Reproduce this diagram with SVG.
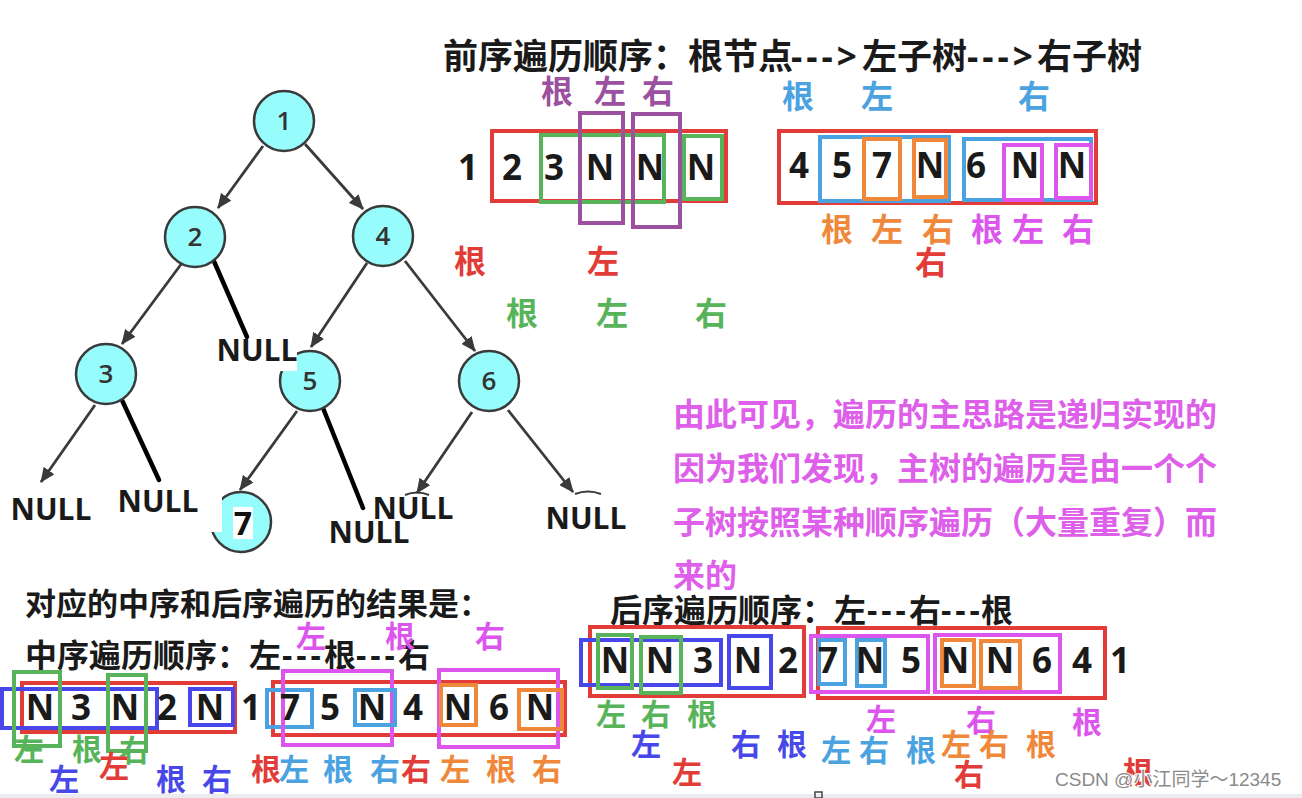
<svg xmlns="http://www.w3.org/2000/svg" width="1302" height="798" viewBox="0 0 1302 798">
<defs>
<marker id="ah" viewBox="0 0 15 13" refX="14" refY="6.5" markerWidth="15" markerHeight="13" markerUnits="userSpaceOnUse" orient="auto"><path d="M0,0 L15,6.5 L0,13 Z" fill="#3a3a3a"/></marker>
<style>
.hd{font-family:"Open Sans","Noto Sans CJK SC",sans-serif;font-weight:700;fill:#1a1a1a}
.lb{font-family:"Noto Sans CJK SC",sans-serif;font-weight:700;font-size:32px;text-anchor:middle}
.lb2{font-family:"Noto Sans CJK SC",sans-serif;font-weight:700;font-size:30px;text-anchor:middle}
.pa{font-family:"Noto Sans CJK SC",sans-serif;font-weight:700;font-size:32px;fill:#de5fe9}
.dg{font-family:"Open Sans","DejaVu Sans",sans-serif;font-weight:700;font-size:35px;text-anchor:middle;fill:#1a1a1a}
.nl{font-family:"Open Sans",sans-serif;font-weight:700;font-size:30px;text-anchor:middle;fill:#1a1a1a}
.nd circle{fill:#96fcfc;stroke:#3a3a3a;stroke-width:2.5}
.nd text{font-family:"Open Sans",sans-serif;font-weight:600;font-size:26px;text-anchor:middle;fill:#333}
.e{stroke:#3a3a3a;stroke-width:2.8;fill:none;marker-end:url(#ah)}
.k{stroke:#000;stroke-width:4.5;fill:none;stroke-linecap:round}
.bx rect{fill:none;stroke-width:4}
.sr{stroke:#e13c38}.sg{stroke:#58b45a}.sp{stroke:#9b51a0}.sb{stroke:#4aa3e0}.so{stroke:#f0883c}.sm{stroke:#dc55ec}.sd{stroke:#4848ea}
.fr{fill:#e13c38}.fg{fill:#58b45a}.fp{fill:#9b51a0}.fb{fill:#4aa3e0}.fo{fill:#f0883c}.fm{fill:#dc55ec}.fd{fill:#4848ea}
</style>
</defs>
<rect width="1302" height="798" fill="#fff"/>

<!-- connectors -->
<g id="connectors">
<line class="e" x1="263" y1="146" x2="218" y2="208"/>
<line class="e" x1="305" y1="144" x2="363" y2="209"/>
<line class="e" x1="182" y1="263" x2="122" y2="344"/>
<line class="e" x1="367" y1="263" x2="311" y2="347"/>
<line class="e" x1="405" y1="261" x2="475" y2="351"/>
<line class="e" x1="95" y1="405" x2="41" y2="482"/>
<line class="e" x1="297" y1="411" x2="240" y2="490"/>
<line class="e" x1="472" y1="412" x2="417" y2="493"/>
<line class="e" x1="508" y1="410" x2="573" y2="492"/>
<line class="k" x1="213" y1="259" x2="247" y2="337"/>
<line class="k" x1="121" y1="398" x2="159" y2="480"/>
<line class="k" x1="323" y1="408" x2="363" y2="508"/>
</g>

<!-- tree nodes -->
<g id="node1" class="nd"><circle cx="284" cy="121" r="30"/><text x="284" y="130">1</text></g>
<g id="node2" class="nd"><circle cx="195" cy="237" r="30"/><text x="195" y="246">2</text></g>
<g id="node4" class="nd"><circle cx="383" cy="236" r="30"/><text x="383" y="245">4</text></g>
<g id="node3" class="nd"><circle cx="106" cy="374" r="30"/><text x="106" y="383">3</text></g>
<g id="node5" class="nd"><circle cx="310" cy="381" r="30"/><rect x="279" y="348" width="18" height="23" fill="#fff"/><text x="310" y="390">5</text></g>
<g id="node6" class="nd"><circle cx="489" cy="381" r="30"/><text x="489" y="390">6</text></g>
<g id="node7" class="nd"><circle cx="241" cy="522" r="30"/><rect x="205" y="489" width="17" height="43" fill="#fff"/><rect x="233" y="507" width="20" height="32" fill="#fff"/><text x="243" y="535" style="font-size:32px;font-weight:700;fill:#111">7</text></g>

<g id="nulls">
<text class="nl" x="51" y="520">NULL</text>
<text class="nl" x="158" y="512">NULL</text>
<text class="nl" x="257" y="361">NULL</text>
<path d="M405,495 Q417,490 429,495" fill="none" stroke="#3a3a3a" stroke-width="2"/>
<text class="nl" x="413" y="519">NULL</text>
<text class="nl" x="369" y="543">NULL</text>
<path d="M575,494 Q588,489 601,494" fill="none" stroke="#3a3a3a" stroke-width="2"/>
<text class="nl" x="586" y="529">NULL</text>
</g>

<!-- top title -->
<g id="title-pre">
<text class="hd" x="443" y="69" font-size="35">前序遍历顺序：根节点</text>
<text class="hd" x="791" y="69" font-size="35" letter-spacing="4">---&gt;</text>
<text class="hd" x="862" y="69" font-size="35">左子树</text>
<text class="hd" x="967" y="69" font-size="35" letter-spacing="4">---&gt;</text>
<text class="hd" x="1037" y="69" font-size="35">右子树</text>
</g>

<!-- array 1 -->
<g id="pre-left">
<g class="bx">
<rect class="sr" x="492" y="131" width="234" height="70"/>
<rect class="sg" x="541" y="135" width="123" height="67"/>
<rect class="sg" x="684" y="136" width="38" height="63"/>
<rect class="sp" x="580" y="113" width="43" height="110"/>
<rect class="sp" x="633" y="114" width="47" height="113"/>
</g>
<text class="dg" x="468" y="180">1</text>
<text class="dg" x="512" y="180">2</text>
<text class="dg" x="554" y="180">3</text>
<text class="dg" x="600" y="180">N</text>
<text class="dg" x="650" y="180">N</text>
<text class="dg" x="701" y="180">N</text>
<text class="lb fp" x="557" y="103">根</text>
<text class="lb fp" x="610" y="103">左</text>
<text class="lb fp" x="658" y="103">右</text>
<text class="lb fr" x="470" y="273">根</text>
<text class="lb fr" x="603" y="273">左</text>
<text class="lb fg" x="522" y="325">根</text>
<text class="lb fg" x="612" y="325">左</text>
<text class="lb fg" x="711" y="325">右</text>
</g>

<!-- array 2 -->
<g id="pre-right">
<g class="bx">
<rect class="sr" x="779" y="131" width="317" height="72"/>
<rect class="sb" x="820" y="137" width="129" height="64"/>
<rect class="so" x="864" y="139" width="36" height="60"/>
<rect class="so" x="914" y="140" width="32" height="57"/>
<rect class="sb" x="964" y="139" width="127" height="61"/>
<rect class="sm" x="1004" y="145" width="38" height="55"/>
<rect class="sm" x="1056" y="145" width="35" height="53"/>
</g>
<text class="dg" x="799" y="178">4</text>
<text class="dg" x="842" y="178">5</text>
<text class="dg" x="882" y="178">7</text>
<text class="dg" x="930" y="178">N</text>
<text class="dg" x="976" y="178">6</text>
<text class="dg" x="1025" y="178">N</text>
<text class="dg" x="1072" y="178">N</text>
<text class="lb fb" x="798" y="108">根</text>
<text class="lb fb" x="877" y="108">左</text>
<text class="lb fb" x="1034" y="108">右</text>
<text class="lb fo" x="837" y="241">根</text>
<text class="lb fo" x="887" y="241">左</text>
<text class="lb fo" x="938" y="241">右</text>
<text class="lb fm" x="987" y="241">根</text>
<text class="lb fm" x="1028" y="241">左</text>
<text class="lb fm" x="1078" y="241">右</text>
<text class="lb fr" x="931" y="274">右</text>
</g>

<!-- explanation paragraph -->
<g id="note">
<text class="pa" x="673" y="426">由此可见，遍历的主思路是递归实现的</text>
<text class="pa" x="673" y="480">因为我们发现，主树的遍历是由一个个</text>
<text class="pa" x="673" y="534">子树按照某种顺序遍历（大量重复）而</text>
<text class="pa" x="673" y="587">来的</text>
</g>

<!-- bottom headings -->
<g id="title-in">
<text class="hd" x="25" y="615" font-size="31">对应的中序和后序遍历的结果是：</text>
<text class="hd" x="25" y="667" font-size="32">中序遍历顺序：左</text>
<text class="hd" x="282" y="667" font-size="32" letter-spacing="4">---</text>
<text class="hd" x="324" y="667" font-size="32">根</text>
<text class="hd" x="356" y="667" font-size="32" letter-spacing="4">---</text>
<text class="hd" x="398" y="667" font-size="32">右</text>
</g>

<!-- array 3 (inorder) -->
<g id="in-order">
<g class="bx">
<rect class="sr" x="22" y="683" width="213" height="49"/>
<rect class="sd" x="2" y="689" width="155" height="39"/>
<rect class="sg" x="14" y="672" width="46" height="74"/>
<rect class="sg" x="108" y="675" width="38" height="76"/>
<rect class="sd" x="190" y="689" width="43" height="36"/>
<rect class="sr" x="273" y="682" width="292" height="53"/>
<rect class="sb" x="267" y="690" width="45" height="37"/>
<rect class="sm" x="283" y="671" width="109" height="74"/>
<rect class="sb" x="355" y="690" width="40" height="35"/>
<rect class="sm" x="439" y="670" width="119" height="77"/>
<rect class="so" x="441" y="685" width="35" height="40"/>
<rect class="so" x="519" y="690" width="43" height="39"/>
</g>
<text class="dg" x="40" y="720">N</text>
<text class="dg" x="81" y="720">3</text>
<text class="dg" x="125" y="720">N</text>
<text class="dg" x="167" y="720">2</text>
<text class="dg" x="210" y="720">N</text>
<text class="dg" x="251" y="720">1</text>
<text class="dg" x="290" y="720">7</text>
<text class="dg" x="330" y="720">5</text>
<text class="dg" x="372" y="720">N</text>
<text class="dg" x="413" y="720">4</text>
<text class="dg" x="458" y="720">N</text>
<text class="dg" x="499" y="720">6</text>
<text class="dg" x="540" y="720">N</text>
<text class="lb2 fm" x="311" y="647">左</text>
<text class="lb2 fm" x="400" y="647">根</text>
<text class="lb2 fm" x="490" y="647">右</text>
<text class="lb2 fg" x="29" y="760">左</text>
<text class="lb2 fg" x="87" y="760">根</text>
<text class="lb2 fg" x="134" y="761">右</text>
<text class="lb2 fr" x="114" y="777">左</text>
<text class="lb2 fd" x="64" y="790">左</text>
<text class="lb2 fd" x="171" y="790">根</text>
<text class="lb2 fd" x="217" y="790">右</text>
<text class="lb2 fr" x="266" y="780">根</text>
<text class="lb2 fb" x="294" y="780">左</text>
<text class="lb2 fb" x="338" y="780">根</text>
<text class="lb2 fb" x="385" y="780">右</text>
<text class="lb2 fr" x="416" y="780">右</text>
<text class="lb2 fo" x="455" y="780">左</text>
<text class="lb2 fo" x="501" y="780">根</text>
<text class="lb2 fo" x="547" y="780">右</text>
</g>

<!-- postorder heading -->
<g id="title-post">
<text class="hd" x="610" y="622" font-size="32">后序遍历顺序：左</text>
<text class="hd" x="867" y="622" font-size="32" letter-spacing="4">---</text>
<text class="hd" x="909" y="622" font-size="32">右</text>
<text class="hd" x="941" y="622" font-size="32" letter-spacing="4">---</text>
<text class="hd" x="981" y="622" font-size="32">根</text>
</g>

<!-- array 4 (postorder) -->
<g id="post-order">
<g class="bx">
<rect class="sr" x="590" y="627" width="214" height="69"/>
<rect class="sd" x="581" y="640" width="140" height="45"/>
<rect class="sg" x="598" y="635" width="34" height="53"/>
<rect class="sg" x="641" y="637" width="40" height="56"/>
<rect class="sd" x="729" y="636" width="42" height="52"/>
<rect class="sr" x="818" y="628" width="287" height="70"/>
<rect class="sm" x="811" y="636" width="117" height="56"/>
<rect class="sb" x="819" y="640" width="26" height="44"/>
<rect class="sb" x="857" y="640" width="28" height="46"/>
<rect class="sm" x="935" y="635" width="125" height="57"/>
<rect class="so" x="942" y="640" width="32" height="46"/>
<rect class="so" x="981" y="641" width="39" height="47"/>
</g>
<text class="dg" x="615" y="673">N</text>
<text class="dg" x="660" y="673">N</text>
<text class="dg" x="703" y="673">3</text>
<text class="dg" x="748" y="673">N</text>
<text class="dg" x="788" y="673">2</text>
<text class="dg" x="828" y="673">7</text>
<text class="dg" x="870" y="673">N</text>
<text class="dg" x="911" y="673">5</text>
<text class="dg" x="955" y="673">N</text>
<text class="dg" x="1000" y="673">N</text>
<text class="dg" x="1042" y="673">6</text>
<text class="dg" x="1082" y="673">4</text>
<text class="dg" x="1120" y="673">1</text>
<text class="lb2 fg" x="611" y="725">左</text>
<text class="lb2 fg" x="656" y="725">右</text>
<text class="lb2 fg" x="702" y="725">根</text>
<text class="lb2 fd" x="646" y="755">左</text>
<text class="lb2 fd" x="746" y="755">右</text>
<text class="lb2 fd" x="792" y="755">根</text>
<text class="lb2 fr" x="687" y="783">左</text>
<text class="lb2 fm" x="881" y="730">左</text>
<text class="lb2 fm" x="981" y="731">右</text>
<text class="lb2 fm" x="1087" y="733">根</text>
<text class="lb2 fb" x="836" y="761">左</text>
<text class="lb2 fb" x="874" y="761">右</text>
<text class="lb2 fb" x="921" y="761">根</text>
<text class="lb2 fo" x="956" y="755">左</text>
<text class="lb2 fo" x="994" y="755">右</text>
<text class="lb2 fo" x="1041" y="755">根</text>
<text class="lb2 fr" x="969" y="785">右</text>
<text class="lb2 fr" x="1138" y="783">根</text>
</g>

<text x="1055" y="786" font-family="Liberation Sans, Noto Sans CJK SC, sans-serif" font-size="19" fill="#8a8a8a" stroke="#fff" stroke-width="2" paint-order="stroke">CSDN @小江同学～12345</text>
<rect x="0" y="794" width="1302" height="4" fill="#ececf0"/>
<rect x="815" y="792" width="7" height="6" fill="none" stroke="#444" stroke-width="1.5"/>
</svg>
